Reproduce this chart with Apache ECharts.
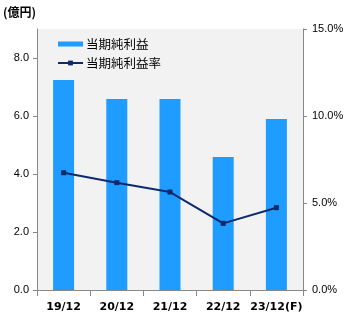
<!DOCTYPE html>
<html><head><meta charset="utf-8">
<script src="https://cdn.jsdelivr.net/npm/echarts@6/dist/echarts.min.js"></script>
<style>html,body{margin:0;padding:0;background:#fff}#c{width:358px;height:330px}</style>
</head><body><div id="c"></div>
<script>
const categories = ['19/12','20/12','21/12','22/12','23/12(F)'];
const netIncome = [7.24, 6.59, 6.59, 4.59, 5.9];
const netMargin = [6.74, 6.17, 5.63, 3.83, 4.73];
const leftTicks = [0, 2, 4, 6, 8];
const rightTicks = [0, 5, 10, 15];

const chart = echarts.init(document.getElementById('c'), null, {renderer:'canvas'});
const jp = '"Noto Sans CJK JP", "DejaVu Sans", sans-serif';
chart.setOption({
  animation: false,
  textStyle: {fontFamily: jp},
  graphic: [{type:'text', left: 3, top: 6, style:{text:'(億円)', font:'bold 12px ' + jp, fill:'#000'}}],
  grid: {left: 37, right: 55, top: 29, bottom: 40, show: true, backgroundColor: '#F2F2F2', borderWidth: 0},
  legend: {
    orient: 'vertical', left: 52, top: 31, itemWidth: 25, itemHeight: 6, itemGap: 3,
    textStyle: {fontSize: 12.5, color: '#000', fontFamily: jp, padding:[0,0,0,-2], lineHeight: 16},
    data: [
      {name: '当期純利益', icon: 'path://M0,0H25V5H0Z'},
      {name: '当期純利益率'}
    ]
  },
  xAxis: {
    type: 'category', data: categories,
    axisLine: {lineStyle: {color: '#888'}},
    axisTick: {show: true, length: 6, lineStyle: {color: '#888'}},
    axisLabel: {interval: 0, hideOverlap: false, color: '#000', fontWeight: 'bold', fontSize: 11, fontFamily: '"DejaVu Sans", sans-serif', margin: 12}
  },
  yAxis: [
    {type: 'value', min: 0, max: 9, interval: 2, position: 'left',
     axisLine: {show: true, lineStyle: {color: '#888'}},
     axisTick: {show: true, length: 4, lineStyle: {color: '#888'}},
     splitLine: {show: false},
     axisLabel: {color: '#000', fontSize: 11, fontFamily: '"Liberation Sans", sans-serif', margin: 8, showMaxLabel: false,
       formatter: v => leftTicks.includes(v) ? v.toFixed(1) : ''}},
    {type: 'value', min: 0, max: 15, interval: 5, position: 'right',
     axisLine: {show: true, lineStyle: {color: '#888'}},
     axisTick: {show: true, length: 4, lineStyle: {color: '#888'}},
     splitLine: {show: false},
     axisLabel: {color: '#000', fontSize: 11, fontFamily: '"Liberation Sans", sans-serif', margin: 9,
       formatter: v => rightTicks.includes(v) ? v.toFixed(1) + '%' : ''}}
  ],
  series: [
    {name: '当期純利益', type: 'bar', data: netIncome, barWidth: 21, itemStyle: {color: '#1E9CFF'}},
    {name: '当期純利益率', type: 'line', yAxisIndex: 1, data: netMargin,
     symbol: 'rect', symbolSize: 5, lineStyle: {color: '#0D2A6B', width: 2}, itemStyle: {color: '#0D2A6B'}}
  ]
});
</script></body></html>
